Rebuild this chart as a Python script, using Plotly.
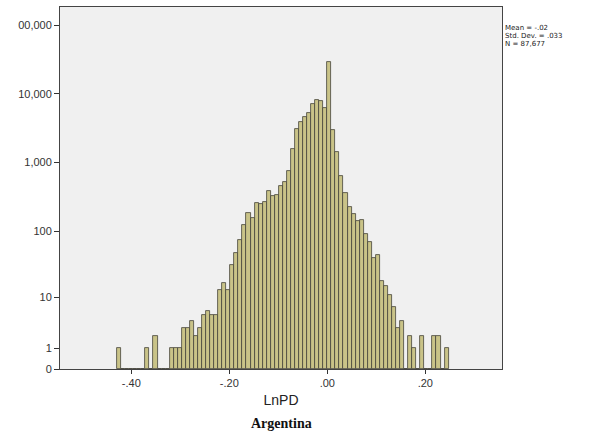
import numpy as np
import plotly.graph_objects as go

# ---- data ----
bin_start = -0.429      # lower edge of first bin
bin_width = 0.00825
counts = [
    1, 0, 0, 0, 0, 0, 0, 1, 0, 2, 0, 0, 0,
    1, 1, 1, 3, 3, 4, 2, 3, 5, 6, 5, 5, 13, 17, 13, 31, 48, 74, 123, 182,
    157, 260, 249, 268, 385, 326, 337, 456, 515, 762, 1577, 3100, 3830,
    4645, 5200, 7050, 8130, 7940, 6150, 29300, 2977, 1438, 638, 364, 228,
    176, 142, 145, 90, 70, 40, 44, 18, 15, 11, 7, 3, 4, 0, 2, 1, 0, 2,
    0, 0, 2, 2, 0, 1,
]
y_tick_values = [0, 1, 10, 100, 1000, 10000, 100000]
y_tick_labels = ["0", "1", "10", "100", "1,000", "10,000", "00,000"]
x_tick_values = [-0.4, -0.2, 0.0, 0.2]
x_tick_labels = ["-.40", "-.20", ".00", ".20"]
stats_lines = ["Mean = -.02", "Std. Dev. = .033", "N = 87,677"]

# ---- derived ----
counts_arr = np.array(counts, dtype=float)
centers = bin_start + bin_width * (np.arange(len(counts)) + 0.5)
yvals = np.log10(counts_arr + 1)          # SPSS-style log(count+1) scale
ytv = np.log10(np.array(y_tick_values, dtype=float) + 1)

fig = go.Figure()
fig.add_trace(go.Bar(
    x=centers, y=yvals, width=bin_width,
    marker=dict(color="#c9c388", line=dict(color="#45443a", width=0.8)),
    customdata=counts_arr, hovertemplate="%{x:.3f}: %{customdata}<extra></extra>",
))

axis_font = dict(family="Liberation Sans, Arial", size=11, color="#333333")
fig.update_layout(
    width=610, height=438,
    margin=dict(l=60, r=108, t=7, b=69),
    paper_bgcolor="white", plot_bgcolor="#f0f0f0",
    bargap=0, showlegend=False,
    xaxis=dict(
        range=[-0.5455, 0.3565], tickvals=x_tick_values, ticktext=x_tick_labels,
        ticks="outside", ticklen=4, tickcolor="#333", tickfont=axis_font,
        showline=True, linecolor="#444", linewidth=1, mirror=True,
        showgrid=False, zeroline=False,
        title=dict(text="LnPD", font=dict(family="Liberation Sans, Arial", size=14, color="#222"), standoff=6),
    ),
    yaxis=dict(
        range=[0, 5.262], tickvals=ytv, ticktext=y_tick_labels,
        ticks="outside", ticklen=5, tickcolor="#333", tickfont=axis_font,
        showline=True, linecolor="#444", linewidth=1, mirror=True,
        showgrid=False, zeroline=False,
    ),
)

for i, line in enumerate(stats_lines):
    y_px = 23 + 8 * i          # top of each line, in pixels from top of figure
    fig.add_annotation(
        xref="paper", yref="paper", x=1.005, y=1 - (y_px - 7) / 362,
        xanchor="left", yanchor="top", showarrow=False, text=line,
        font=dict(family="DejaVu Sans", size=7, color="#222"),
        borderpad=0,
    )

fig.add_annotation(
    xref="paper", yref="paper", x=0.5, y=-54 / 362, xanchor="center", yanchor="middle",
    showarrow=False, text="<b>Argentina</b>",
    font=dict(family="Liberation Serif", size=14, color="#111"),
)

fig.write_html("out.html")
